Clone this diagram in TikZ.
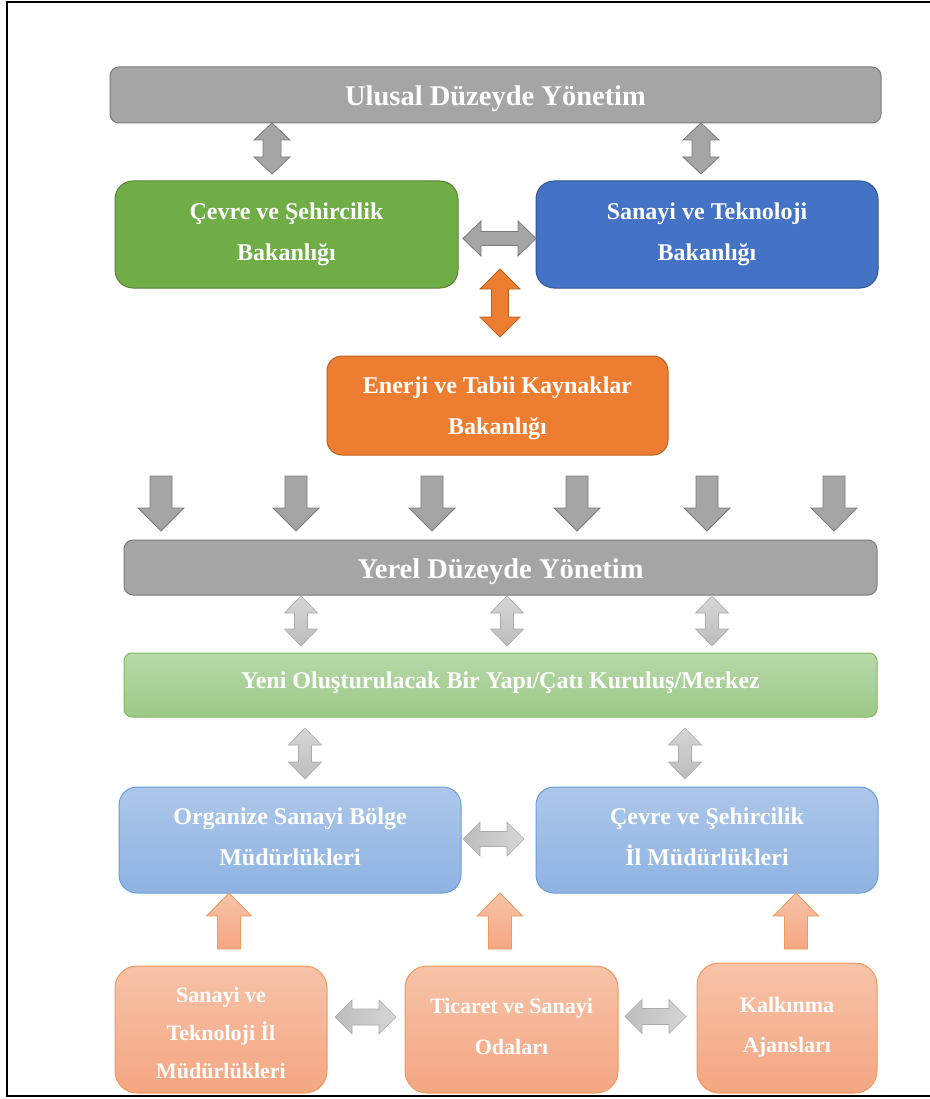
\documentclass[tikz,border=0pt]{standalone}
\usepackage{fontspec}
\setmainfont{Liberation Serif}
\definecolor{gboxfill}{HTML}{A5A5A5}
\definecolor{gboxdraw}{HTML}{7B7B7B}
\definecolor{grnfill}{HTML}{70AD47}
\definecolor{grndraw}{HTML}{548235}
\definecolor{blufill}{HTML}{4472C4}
\definecolor{bludraw}{HTML}{2F5597}
\definecolor{orgfill}{HTML}{ED7D31}
\definecolor{orgdraw}{HTML}{B9611F}
\definecolor{lgtop}{HTML}{D6D6D6}
\definecolor{lgbot}{HTML}{BDBDBD}
\definecolor{lgdraw}{HTML}{ABABAB}
\definecolor{lgrtop}{HTML}{B7D8A9}
\definecolor{lgrbot}{HTML}{9DC987}
\definecolor{lgrdraw}{HTML}{7EBB60}
\definecolor{lbtop}{HTML}{ADC7EA}
\definecolor{lbbot}{HTML}{8EB3E2}
\definecolor{lbdraw}{HTML}{6B9DD8}
\definecolor{lotop}{HTML}{F7C3A8}
\definecolor{lobot}{HTML}{F4A682}
\definecolor{lodraw}{HTML}{F09A5E}
% vertical double arrow: style, cx, top, bottom, halfhead, halfshaft, headlen
\newcommand{\arrVD}[7]{\draw[#1] (#2,#3) -- (#2+#5,#3+#7) -- (#2+#6,#3+#7) -- (#2+#6,#4-#7) -- (#2+#5,#4-#7) -- (#2,#4) -- (#2-#5,#4-#7) -- (#2-#6,#4-#7) -- (#2-#6,#3+#7) -- (#2-#5,#3+#7) -- cycle;}
% horizontal double arrow: style, cy, left, right, halfhead, halfshaft, headlen
\newcommand{\arrHD}[7]{\draw[#1] (#3,#2) -- (#3+#7,#2-#5) -- (#3+#7,#2-#6) -- (#4-#7,#2-#6) -- (#4-#7,#2-#5) -- (#4,#2) -- (#4-#7,#2+#5) -- (#4-#7,#2+#6) -- (#3+#7,#2+#6) -- (#3+#7,#2+#5) -- cycle;}
% single vertical arrows: style, cx, tail y, tip y, halfhead, halfshaft, headlen
\newcommand{\arrDownward}[7]{\draw[#1] (#2-#6,#3) -- (#2+#6,#3) -- (#2+#6,#4-#7) -- (#2+#5,#4-#7) -- (#2,#4) -- (#2-#5,#4-#7) -- (#2-#6,#4-#7) -- cycle;}
\newcommand{\arrUpward}[7]{\draw[#1] (#2-#6,#3) -- (#2+#6,#3) -- (#2+#6,#4+#7) -- (#2+#5,#4+#7) -- (#2,#4) -- (#2-#5,#4+#7) -- (#2-#6,#4+#7) -- cycle;}
\tikzset{
  box/.style={draw, line width=1pt, inner sep=0pt},
  txt/.style={text=white, align=center, inner sep=0pt,
    font=\bfseries\fontsize{24}{41}\selectfont},
  titletxt/.style={txt, font=\bfseries\fontsize{28.5}{34}\selectfont},
  titlebox/.style={box, fill=gboxfill, draw=gboxdraw, rounded corners=9pt},
  lobox/.style={box, top color=lotop, bottom color=lobot, draw=lodraw, rounded corners=22pt},
  lbbox/.style={box, top color=lbtop, bottom color=lbbot, draw=lbdraw, rounded corners=18pt, minimum width=342pt, minimum height=106pt},
  darkgrayarr/.style={fill=gboxfill, draw=gboxdraw, line width=0.8pt, line join=miter},
  lightarr/.style={top color=lgtop, bottom color=lgbot, draw=lgdraw, line width=0.6pt},
  lightarrh/.style={left color=lgbot, right color=lgtop, draw=lgdraw, line width=0.6pt},
  orangearr/.style={fill=orgfill, draw=orgdraw, line width=0.8pt},
  lorangearr/.style={top color=lotop, bottom color=lobot, draw=lodraw, line width=0.8pt},
}
\begin{document}
\begin{tikzpicture}[x=1pt,y=-1pt]
\useasboundingbox (0,0) rectangle (929,1099);
\fill[white] (0,0) rectangle (929,1099);
\draw[line width=1.4pt] (945,2) -- (7,2) -- (7,1096) -- (945,1096);

% national level
\node[titlebox, minimum width=771pt, minimum height=56pt] (ulusal) at (495.5,95) {};
\node[titletxt, yshift=-4pt] (ulusal-t) at (ulusal.center) {Ulusal Düzeyde Yönetim};
\node[box, fill=grnfill, draw=grndraw, rounded corners=18pt, minimum width=343pt, minimum height=107pt] (cevre) at (286.5,234.5) {};
\node[txt] (cevre-t) at (cevre.center) {Çevre ve Şehircilik\\Bakanlığı};
\node[box, fill=blufill, draw=bludraw, rounded corners=18pt, minimum width=342pt, minimum height=107pt] (sanayi) at (707,234.5) {};
\node[txt] (sanayi-t) at (sanayi.center) {Sanayi ve Teknoloji\\Bakanlığı};
\node[box, fill=orgfill, draw=orgdraw, rounded corners=15pt, minimum width=341pt, minimum height=99pt] (enerji) at (497.5,405.5) {};
\node[txt, yshift=-2.5pt] (enerji-t) at (enerji.center) {Enerji ve Tabii Kaynaklar\\Bakanlığı};

\arrVD{darkgrayarr}{272}{123}{174}{18}{9}{17}
\arrVD{darkgrayarr}{701}{123}{174}{18}{9}{17}
\arrHD{darkgrayarr}{238.5}{463}{536}{17.5}{7}{18}
\arrVD{orangearr}{500}{269}{337}{20}{8.5}{20}

% down arrows
\foreach \cx in {161,296,432,577,707,834}{
  \arrDownward{darkgrayarr}{\cx}{476}{531}{23}{11}{23}
}

% local level
\node[titlebox, minimum width=753pt, minimum height=55pt] (yerel) at (500.5,567.5) {};
\node[titletxt, yshift=-4pt] (yerel-t) at (yerel.center) {Yerel Düzeyde Yönetim};
\foreach \cx in {301,507,712}{
  \arrVD{lightarr}{\cx}{596}{646}{16.5}{6.5}{17}
}
\node[box, top color=lgrtop, bottom color=lgrbot, draw=lgrdraw, rounded corners=8pt, minimum width=753pt, minimum height=64pt] (yeni) at (500.5,685) {};
\node[txt, yshift=2pt] (yeni-t) at (yeni.center) {Yeni Oluşturulacak Bir Yapı/Çatı Kuruluş/Merkez};
\foreach \cx in {305,685}{
  \arrVD{lightarr}{\cx}{728}{779}{16.5}{6.5}{17}
}
\node[lbbox] (osb) at (290,840) {};
\node[txt, yshift=3.5pt] (osb-t) at (osb.center) {Organize Sanayi Bölge\\Müdürlükleri};
\node[lbbox] (cevreil) at (707,840) {};
\node[txt, yshift=3.5pt] (cevreil-t) at (cevreil.center) {Çevre ve Şehircilik\\İl Müdürlükleri};
\arrHD{lightarrh}{839}{463}{524}{17}{7.5}{17}

\foreach \cx in {229,500,796}{
  \arrUpward{lorangearr}{\cx}{949}{893}{22.5}{11.5}{23}
}

\node[lobox, minimum width=212pt, minimum height=127pt] (stil) at (221,1029.5) {};
\node[txt, yshift=-3.5pt, font=\bfseries\fontsize{22}{38}\selectfont] (stil-t) at (stil.center) {Sanayi ve\\Teknoloji İl\\Müdürlükleri};
\node[lobox, minimum width=213pt, minimum height=127pt] (tso) at (511.5,1029.5) {};
\node[txt, yshift=3pt, font=\bfseries\fontsize{22}{41}\selectfont] (tso-t) at (tso.center) {Ticaret ve Sanayi\\Odaları};
\node[lobox, minimum width=180pt, minimum height=130pt] (ka) at (787,1028) {};
\node[txt, yshift=1pt, font=\bfseries\fontsize{22}{40}\selectfont] (ka-t) at (ka.center) {Kalkınma\\Ajansları};
\arrHD{lightarrh}{1017}{335}{396}{17}{8}{17}
\arrHD{lightarrh}{1016.5}{625}{686}{17}{8}{17}
\end{tikzpicture}
\end{document}
